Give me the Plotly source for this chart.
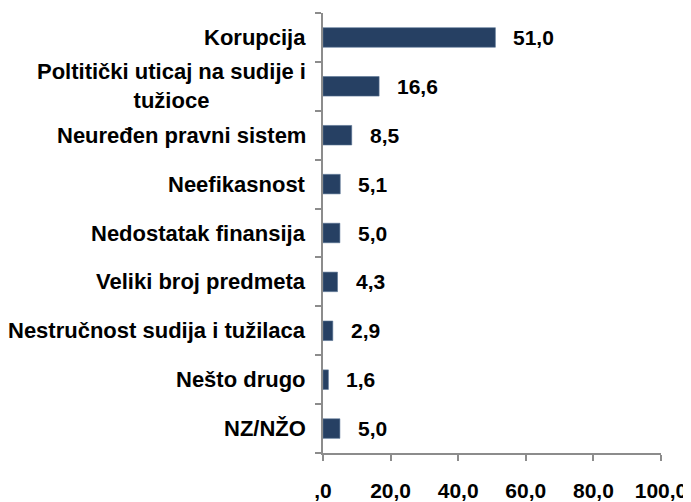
import plotly.graph_objects as go

categories = ["Korupcija", "Poltitički uticaj na sudije i<br>tužioce", "Neuređen pravni sistem",
              "Neefikasnost", "Nedostatak finansija", "Veliki broj predmeta",
              "Nestručnost sudija i tužilaca", "Nešto drugo", "NZ/NŽO"]
values = [51.0, 16.6, 8.5, 5.1, 5.0, 4.3, 2.9, 1.6, 5.0]
value_labels = ["51,0", "16,6", "8,5", "5,1", "5,0", "4,3", "2,9", "1,6", "5,0"]
x_tickvals = [0, 20, 40, 60, 80, 100]
x_ticktext = [",0", "20,0", "40,0", "60,0", "80,0", "100,0"]

FONT = "Arial, Liberation Sans, sans-serif"
BAR = "#264063"
AXIS = "#8c8c8c"

fig = go.Figure()
fig.add_trace(go.Bar(
    x=values, y=list(range(len(categories))), orientation="h",
    marker=dict(color=BAR, line=dict(color="#5a7596", width=0.6)),
    width=0.4, hoverinfo="skip",
))

for i, (v, t) in enumerate(zip(values, value_labels)):
    fig.add_annotation(x=v, y=i, xref="x", yref="y", text=t, showarrow=False,
                       xanchor="left", yanchor="middle", xshift=16,
                       font=dict(family=FONT, size=21, color="#000000", weight="bold"))

for i, c in enumerate(categories):
    fig.add_annotation(x=0, y=i, xref="paper", yref="y", text=c, showarrow=False,
                       xanchor="right", yanchor="middle", align="center", xshift=-15,
                       font=dict(family=FONT, size=22, color="#000000", weight="bold"))

# the page body has an 8px default margin, so the figure is 8px smaller than the window
fig.update_layout(
    width=683, height=494,
    margin=dict(l=315, r=30, t=5, b=49),
    paper_bgcolor="white", plot_bgcolor="white",
    showlegend=False, bargap=0.6,
    font=dict(family=FONT, size=21, color="#000000", weight="bold"),
)
fig.update_xaxes(range=[0, 100], tickvals=x_tickvals, ticktext=x_ticktext, automargin=False,
                 showgrid=False, zeroline=False, showline=True, linecolor=AXIS, linewidth=2,
                 ticks="outside", ticklen=6, tickcolor=AXIS, tickwidth=2,
                 ticklabelstandoff=12,
                 tickfont=dict(family=FONT, size=21, color="#000000", weight="bold"))
fig.update_yaxes(range=[len(categories) - 0.5, -0.5], tickvals=[i + 0.5 for i in range(-1, len(categories))],
                 automargin=False,
                 showticklabels=False, showgrid=False, zeroline=False,
                 showline=True, linecolor=AXIS, linewidth=2,
                 ticks="outside", ticklen=6, tickcolor=AXIS, tickwidth=2)

fig.write_html("out.html")
